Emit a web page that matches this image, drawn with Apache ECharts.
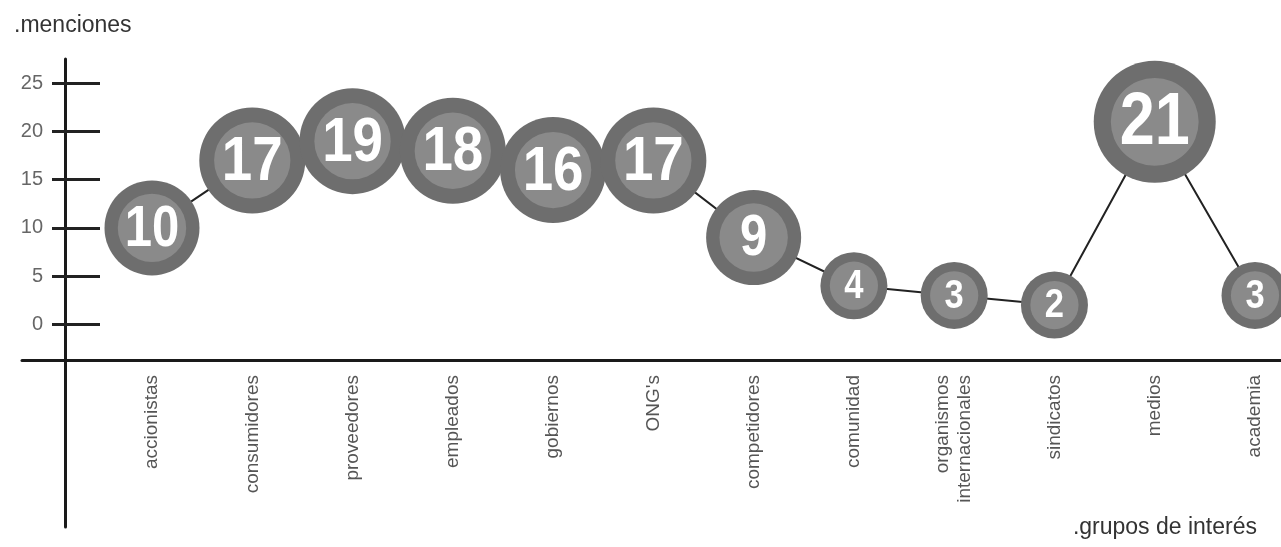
<!DOCTYPE html>
<html>
<head>
<meta charset="utf-8">
<script src="https://cdn.jsdelivr.net/npm/echarts@6/dist/echarts.min.js"></script>
<style>
  html, body { margin: 0; padding: 0; background: #fff; }
  #chart { width: 1281px; height: 547px; }
</style>
</head>
<body>
<div id="chart"></div>
<script>
// Stakeholder groups and number of mentions
const categories = [
  'accionistas', 'consumidores', 'proveedores', 'empleados', 'gobiernos', "ONG's",
  'competidores', 'comunidad', 'organismos\ninternacionales', 'sindicatos', 'medios', 'academia'
];
const mentions = [10, 17, 19, 18, 16, 17, 9, 4, 3, 2, 21, 3];
const yTicks = [0, 5, 10, 15, 20, 25];

const FONT = "'Liberation Sans', Arial, Helvetica, sans-serif";

// Bubble diameter grows in steps with the number of mentions
function bubbleDiameter(v) {
  if (v >= 20) return 122;
  if (v >= 15) return 106;
  if (v >= 8) return 95;
  return 67;
}

const chart = echarts.init(document.getElementById('chart'), null, { renderer: 'canvas' });

chart.setOption({
  animation: false,
  backgroundColor: '#ffffff',
  title: [
    { text: '.menciones', left: 9, top: 9,
      textStyle: { fontFamily: FONT, fontSize: 23, fontWeight: 'normal', color: '#333' } },
    { text: '.grupos de interés', right: 19, top: 511,
      textStyle: { fontFamily: FONT, fontSize: 23, fontWeight: 'normal', color: '#333' } }
  ],
  grid: [
    // frame: the two long axis lines
    { left: 22, right: 0, top: 59, bottom: 20 },
    // plotting area
    { left: 152, right: 26, top: 59, bottom: 187 }
  ],
  xAxis: [
    {
      gridIndex: 0, type: 'value', min: 0, max: 1,
      axisLine: { show: true, onZero: true, onZeroAxisIndex: 0, lineStyle: { color: '#1a1a1a', width: 3 } },
      axisTick: { show: false }, axisLabel: { show: false }, splitLine: { show: false }
    },
    {
      gridIndex: 1, type: 'category', data: categories, boundaryGap: false,
      axisLine: { show: false }, axisTick: { show: false }, splitLine: { show: false },
      axisLabel: {
        rotate: 90, margin: 15, interval: 0,
        fontFamily: FONT, fontSize: 19, lineHeight: 22, color: '#555'
      }
    }
  ],
  yAxis: [
    {
      gridIndex: 0, type: 'value', min: -167, max: 301, offset: -43,
      axisLine: { show: true, lineStyle: { color: '#1a1a1a', width: 3 } },
      axisTick: { show: false }, axisLabel: { show: false }, splitLine: { show: false }
    },
    {
      // value axis placed just right of the main line so its ticks cross it
      gridIndex: 1, type: 'value', min: -3.703, max: 27.52, offset: 52,
      axisLine: { show: false }, splitLine: { show: false },
      axisTick: { show: true, length: 48, customValues: yTicks, lineStyle: { color: '#222', width: 3 } },
      axisLabel: { show: true, customValues: yTicks, margin: 57,
        fontFamily: FONT, fontSize: 20, color: '#666' }
    }
  ],
  series: [
    {
      type: 'line', xAxisIndex: 1, yAxisIndex: 1, data: mentions,
      symbol: 'none', z: 2,
      lineStyle: { color: '#222', width: 2 }
    },
    {
      type: 'custom', xAxisIndex: 1, yAxisIndex: 1, z: 3,
      data: mentions.map((v, i) => [i, v]),
      renderItem: function (params, api) {
        const v = api.value(1);
        const p = api.coord([api.value(0), v]);
        const d = bubbleDiameter(v);
        const ring = d * 0.14;
        const fs = d * 0.6;
        return {
          type: 'group',
          children: [
            { type: 'circle', shape: { cx: p[0], cy: p[1], r: d / 2 }, style: { fill: '#6e6e6e' } },
            { type: 'circle', shape: { cx: p[0], cy: p[1], r: d / 2 - ring }, style: { fill: '#8a8a8a' } },
            {
              type: 'text', x: p[0], y: p[1] + d * 0.02, scaleX: 0.86,
              style: {
                text: String(v), fill: '#ffffff',
                font: 'bold ' + fs.toFixed(1) + 'px ' + FONT,
                align: 'center', verticalAlign: 'middle'
              }
            }
          ]
        };
      }
    }
  ]
});
</script>
</body>
</html>
